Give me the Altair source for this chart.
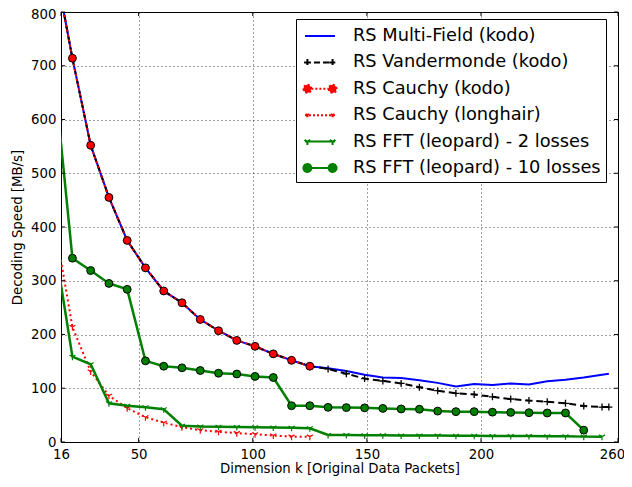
import altair as alt
import pandas as pd

# ---- data ----
k_cauchy = [13, 21, 29, 37, 45, 53, 61, 69, 77, 85, 93, 101, 109, 117, 125]
k_tail = [133, 141, 149, 157, 165, 173, 181, 189, 197, 205, 213, 221, 229, 237, 245, 253]
k_kodo = k_cauchy + k_tail + [256]
k_fft2 = k_cauchy + k_tail
k_fft10 = k_cauchy + k_tail[:-1]

cauchy_kodo = [895, 714, 552, 455, 375, 324, 281, 259, 228, 207, 189, 178, 164, 152, 141]
multi_field = cauchy_kodo + [137, 132, 125, 120, 119, 115, 110, 103.5, 108, 106, 109, 107, 113, 116, 120, 125, 127]
vandermonde = cauchy_kodo + [136, 127, 118, 113.5, 109, 102, 95.5, 90.5, 88.5, 84, 80, 77, 75, 72, 67, 65, 65]
cauchy_longhair = [412, 214, 131, 86, 63, 46, 36, 27.5, 22, 19, 16.5, 14.5, 12, 10, 10]
fft_2 = [372, 158.7, 144.5, 72, 67.6, 64.5, 60.8, 30.4, 29, 28.5, 28, 27.5, 27, 26.5, 25.4,
         13, 13, 12.5, 12.5, 12, 12, 12, 11.5, 11.5, 11, 11, 11, 10.5, 10.5, 10, 10]
fft_10 = [684, 342, 319, 295, 284, 151, 141, 138, 133, 128, 126.5, 122, 120, 67.5, 67.5,
          64.5, 64, 63.5, 62.5, 61.5, 61, 57.5, 56.5, 56.5, 55.5, 55, 54.5, 54, 54, 22]

names = ["RS Multi-Field (kodo)", "RS Vandermonde (kodo)", "RS Cauchy (kodo)",
         "RS Cauchy (longhair)", "RS FFT (leopard) - 2 losses", "RS FFT (leopard) - 10 losses"]
x_ticks = [16, 50, 100, 150, 200, 260]
y_ticks = [0, 100, 200, 300, 400, 500, 600, 700, 800]

BLUE, BLACK, RED, GREEN = "#0000ff", "#000000", "#ff0000", "#008000"
W, H = 557, 430

def frame(ks, vs, name):
    return pd.DataFrame({"k": ks, "speed": vs, "series": name})

df_mf = frame(k_kodo, multi_field, names[0])
df_vd = frame(k_kodo, vandermonde, names[1])
df_ck = frame(k_cauchy, cauchy_kodo, names[2])
df_lh = frame(k_cauchy, cauchy_longhair, names[3])
df_f2 = frame(k_fft2, fft_2, names[4])
df_f10 = frame(k_fft10, fft_10, names[5])

xs = alt.Scale(domain=[16, 260], nice=False, zero=False)
ys = alt.Scale(domain=[0, 800], nice=False)
X = alt.X("k:Q", scale=xs, axis=alt.Axis(
    values=x_ticks, title="Dimension k [Original Data Packets]", labelPadding=5, titlePadding=1,
    labelFlush=False,
    labelOffset={"condition": {"test": "datum.value == 260", "value": -6}, "value": 0}))
Y = alt.Y("speed:Q", scale=ys, axis=alt.Axis(
    values=y_ticks, title="Decoding Speed [MB/s]", labelPadding=5, titlePadding=6,
    labelOffset={"condition": {"test": "datum.value == 800", "value": 2}, "value": 0}))

Y_PATH = "M0,0L0,1M0,0L-0.866,-0.5M0,0L0.866,-0.5"
PLUS_PATH = "M-1,0L1,0M0,-1L0,1"

def line(df, **kw):
    return alt.Chart(df).mark_line(clip=True, **kw).encode(x=X, y=Y)

def pts(df, **kw):
    return alt.Chart(df).mark_point(clip=True, opacity=1, **kw).encode(x=X, y=Y)

# inward tick marks on all four sides, placed by the scales at the tick values
xt = pd.DataFrame({"k": x_ticks})
yt = pd.DataFrame({"speed": y_ticks})
tick_layers = [
    alt.Chart(xt).mark_rule(color="black", strokeWidth=1).encode(x=X, y=alt.value(H - 4), y2=alt.value(H)),
    alt.Chart(xt).mark_rule(color="black", strokeWidth=1).encode(x=X, y=alt.value(0), y2=alt.value(4)),
    alt.Chart(yt).mark_rule(color="black", strokeWidth=1).encode(y=Y, x=alt.value(0), x2=alt.value(4)),
    alt.Chart(yt).mark_rule(color="black", strokeWidth=1).encode(y=Y, x=alt.value(W - 4), x2=alt.value(W)),
]

layers = [
    line(df_mf, color=BLUE, strokeWidth=2),
    line(df_vd, color=BLACK, strokeWidth=2, strokeDash=[7, 4]),
    pts(df_vd, shape=PLUS_PATH, size=49, stroke=BLACK, strokeWidth=1.3, filled=False),
    line(df_ck, color=RED, strokeWidth=2, strokeDash=[2, 3]),
    pts(df_ck, shape="circle", size=62, fill=RED, stroke=BLACK, strokeWidth=1, filled=True),
    line(df_lh, color=RED, strokeWidth=2, strokeDash=[2, 3]),
    pts(df_lh, shape=Y_PATH, size=49, stroke=RED, strokeWidth=1.2, filled=False),
    line(df_f2, color=GREEN, strokeWidth=2.5),
    pts(df_f2, shape=Y_PATH, size=49, stroke=GREEN, strokeWidth=1.2, filled=False),
    line(df_f10, color=GREEN, strokeWidth=2.5),
    pts(df_f10, shape="circle", size=62, fill=GREEN, stroke=BLACK, strokeWidth=1, filled=True),
]

# ---- legend (built from an empty layer with explicit scale domains) ----
S = 0.636   # shift of the handle to the right, in symbol units (11 px each)
L = 1.364   # half length of the handle line
M = 1.145   # marker centre offset
R = 0.36    # circle radius
def circ(cx, r=R):
    return f"M{cx - r},0A{r},{r} 0 1,0 {cx + r},0A{r},{r} 0 1,0 {cx - r},0Z"
def yy(cx, a=0.3):
    return f"M{cx},0L{cx},{a}M{cx},0L{cx - 0.866 * a},{-0.5 * a}M{cx},0L{cx + 0.866 * a},{-0.5 * a}"
def pl(cx, a=0.3):
    return f"M{cx - a},0L{cx + a},0M{cx},{-a}L{cx},{a}"
seg = f"M{S - L},0L{S + L},0"
shapes = [
    seg,
    seg + pl(S - M) + pl(S + M),
    f"M{S - M + R},0L{S + M - R},0" + circ(S - M) + circ(S + M),
    seg + yy(S - M) + yy(S + M),
    seg + yy(S - M) + yy(S + M),
    f"M{S - M + R},0L{S + M - R},0" + circ(S - M) + circ(S + M),
]
fills = [BLUE, BLACK, RED, RED, GREEN, GREEN]
strokes = [BLUE, BLACK, RED, RED, GREEN, GREEN]
dashes = [[1, 0], [6, 3], [2, 2], [2, 2], [1, 0], [1, 0]]

leg = alt.Legend(title=None, orient="none", legendX=235, legendY=7, labelFont="DejaVu Sans",
                 labelFontSize=17.8, labelColor="black", labelLimit=500, symbolSize=484,
                 symbolStrokeWidth=2, labelOffset=28, rowPadding=5.4, padding=5,
                 fillColor="white", strokeColor="black", symbolOpacity=1)

legend_df = pd.DataFrame({"k": [16] * 6, "speed": [0] * 6, "series": names})
legend_layer = alt.Chart(legend_df).transform_filter("datum.k < 0").mark_point(opacity=1).encode(
    x=X, y=Y,
    fill=alt.Fill("series:N", scale=alt.Scale(domain=names, range=fills), legend=leg),
    stroke=alt.Stroke("series:N", scale=alt.Scale(domain=names, range=strokes), legend=leg),
    shape=alt.Shape("series:N", scale=alt.Scale(domain=names, range=shapes), legend=leg),
    strokeDash=alt.StrokeDash("series:N", scale=alt.Scale(domain=names, range=dashes), legend=leg),
)

chart = alt.layer(*layers, *tick_layers, legend_layer).properties(
    width=W, height=H,
    autosize=alt.AutoSizeParams(type="none"),
    padding={"left": 53, "top": 4, "right": 6, "bottom": 37},
    background="white",
).configure_view(stroke="black", strokeWidth=1).configure_axis(
    labelFont="DejaVu Sans", labelFontSize=13.3, labelColor="black",
    titleFont="DejaVu Sans", titleFontSize=13.3, titleFontWeight="normal", titleColor="black",
    grid=True, gridColor="black", gridDash=[1, 3], gridOpacity=0.75, gridWidth=1,
    domain=False, ticks=False,
)

chart.save("out.html", embed_options={"renderer": "svg", "actions": False})
